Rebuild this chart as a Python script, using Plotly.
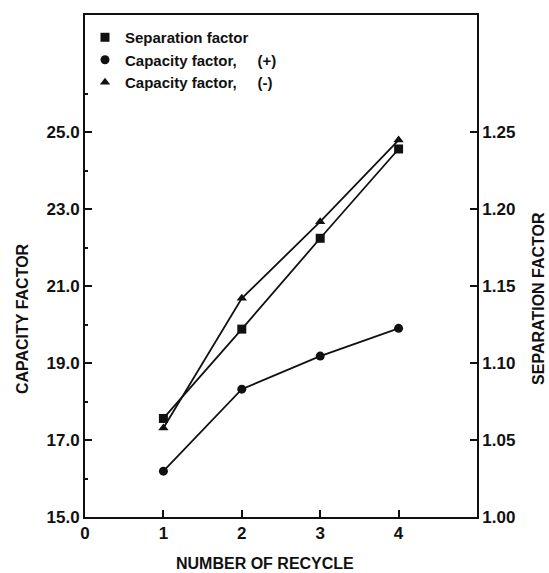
import plotly.graph_objects as go

recycle = [1, 2, 3, 4]
separation_factor = [1.064, 1.122, 1.181, 1.239]
capacity_plus = [16.19, 18.32, 19.18, 19.90]
capacity_minus = [17.31, 20.68, 22.67, 24.79]

x_ticks = [0, 1, 2, 3, 4]
left_ticks = [15.0, 17.0, 19.0, 21.0, 23.0, 25.0]
right_ticks = [1.00, 1.05, 1.10, 1.15, 1.20, 1.25]

FONT = "Liberation Sans, Arial, Helvetica, sans-serif"
BLACK = "#111111"

fig = go.Figure()

series = [
    ("Separation factor", recycle, separation_factor, "square", "y2"),
    ("Capacity factor,     (+)", recycle, capacity_plus, "circle", "y"),
    ("Capacity factor,     (-)", recycle, capacity_minus, "triangle-up", "y"),
]

for name, xs, ys, sym, yax in series:
    fig.add_trace(go.Scatter(x=xs, y=ys, mode="lines", yaxis=yax,
                             line=dict(color=BLACK, width=1.8),
                             showlegend=False, hoverinfo="skip"))
    fig.add_trace(go.Scatter(x=xs, y=ys, mode="markers", yaxis=yax, name=name,
                             marker=dict(symbol=sym, size=9, color=BLACK)))

axis_common = dict(showline=True, linecolor=BLACK, linewidth=1.8,
                   ticks="inside", ticklen=7, tickwidth=1.5, tickcolor=BLACK,
                   showgrid=False, zeroline=False,
                   tickfont=dict(family=FONT, size=17, color=BLACK, weight="bold"))

title_font = dict(family=FONT, size=16, color=BLACK, weight="bold")

fig.update_layout(
    width=549, height=573,
    margin=dict(l=85, r=72, t=15, b=56),
    paper_bgcolor="white", plot_bgcolor="white",
    font=dict(family=FONT, color=BLACK, weight="bold"),
    xaxis=dict(range=[0, 5], tickvals=x_ticks, mirror=True, **axis_common),
    yaxis=dict(range=[15, 28.04], tickvals=left_ticks, tickformat=".1f",
               minor=dict(tickvals=[16, 18, 20, 22, 24, 26], ticklen=3,
                          tickcolor=BLACK, ticks="inside"),
               **axis_common),
    yaxis2=dict(range=[1.0, 1.326], tickvals=right_ticks, tickformat=".2f",
                overlaying="y", side="right", **axis_common),
    legend=dict(x=0.0, y=0.988, xanchor="left", yanchor="top",
                bgcolor="rgba(0,0,0,0)", itemwidth=30, tracegroupgap=0,
                font=dict(family=FONT, size=15, color=BLACK, weight="bold")),
    annotations=[
        dict(text="NUMBER OF RECYCLE", xref="paper", yref="paper",
             x=0.459, y=-0.092, xanchor="center", yanchor="middle", showarrow=False,
             font=title_font),
        dict(text="CAPACITY FACTOR", textangle=-90, xref="paper", yref="paper",
             x=-0.161, y=0.396, xanchor="center", yanchor="middle", showarrow=False,
             font=title_font),
        dict(text="SEPARATION FACTOR", textangle=-90, xref="paper", yref="paper",
             x=1.155, y=0.436, xanchor="center", yanchor="middle", showarrow=False,
             font=title_font),
    ],
)

fig.write_html(
    "out.html",
    config={"displayModeBar": False},
    post_script="document.body.style.margin='0';document.body.style.overflow='hidden';",
)
